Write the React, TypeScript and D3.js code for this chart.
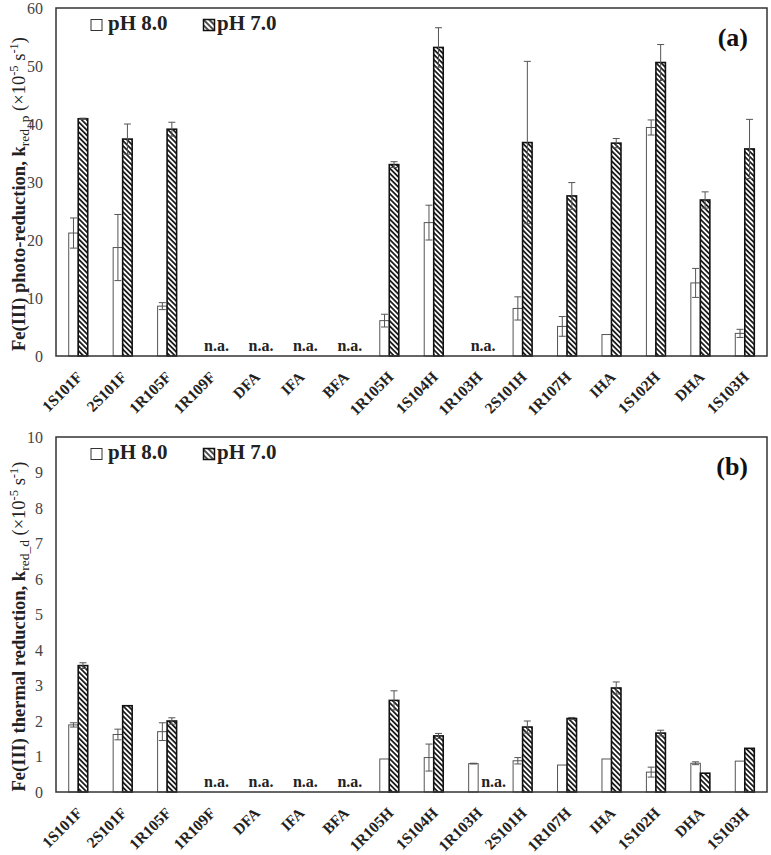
import React from "react";
import * as d3 from "d3";

const categories = ["1S101F","2S101F","1R105F","1R109F","DFA","IFA","BFA","1R105H","1S104H","1R103H","2S101H","1R107H","IHA","1S102H","DHA","1S103H"];

const photoPH8 = [21.2, 18.7, 8.6, null, null, null, null, 6.1, 23.0, null, 8.2, 5.1, 3.7, 39.4, 12.6, 3.9];
const photoPH8Err = [2.6, 5.7, 0.6, null, null, null, null, 1.1, 3.0, null, 2.0, 1.7, 0, 1.3, 2.5, 0.7];
const photoPH7 = [40.9, 37.4, 39.1, null, null, null, null, 33.0, 53.2, null, 36.8, 27.6, 36.7, 50.6, 26.9, 35.7];
const photoPH7Err = [0.1, 2.6, 1.2, null, null, null, null, 0.5, 3.4, null, 14.0, 2.3, 0.8, 3.1, 1.4, 5.1];

const thermalPH8 = [1.89, 1.62, 1.70, null, null, null, null, 0.93, 0.97, 0.80, 0.88, 0.76, 0.93, 0.56, 0.81, 0.87];
const thermalPH8Err = [0.06, 0.15, 0.25, null, null, null, null, 0, 0.38, 0.01, 0.09, 0, 0, 0.14, 0.04, 0];
const thermalPH7 = [3.56, 2.43, 2.00, null, null, null, null, 2.58, 1.58, null, 1.83, 2.07, 2.93, 1.66, 0.53, 1.23];
const thermalPH7Err = [0.08, 0, 0.09, null, null, null, null, 0.27, 0.07, null, 0.17, 0.03, 0.17, 0.08, 0, 0];

const photoTicks = [0, 10, 20, 30, 40, 50, 60];
const thermalTicks = [0, 1, 2, 3, 4, 5, 6, 7, 8, 9, 10];

const legendLabels = ["pH 8.0", "pH 7.0"];

const FONT = "'Liberation Serif', 'Times New Roman', serif";

type PanelProps = {
  top: number;
  bottom: number;
  yMax: number;
  ticks: number[];
  ph8: (number | null)[];
  ph8Err: (number | null)[];
  ph7: (number | null)[];
  ph7Err: (number | null)[];
  tag: string;
  titleMain: string;
  titleSub: string;
};

const LEFT = 56;
const RIGHT = 767;
const BAR_W = 9.5;

function Panel(p: PanelProps) {
  const x = d3.scaleBand<string>().domain(categories).range([LEFT, RIGHT]).padding(0);
  const y = d3.scaleLinear().domain([0, p.yMax]).range([p.bottom, p.top]);
  const c = (cat: string) => (x(cat) as number) + x.bandwidth() / 2;
  const titleY = (p.top + p.bottom) / 2 + 12;

  const errBar = (cx: number, v: number, e: number | null, key: string) => {
    if (e == null || e <= 0) return null;
    const y1 = y(v + e);
    const y2 = y(v - e);
    return (
      <g key={key} stroke="#555" strokeWidth={1}>
        <line x1={cx} x2={cx} y1={y1} y2={y2} />
        <line x1={cx - 3.5} x2={cx + 3.5} y1={y1} y2={y1} />
        <line x1={cx - 3.5} x2={cx + 3.5} y1={y2} y2={y2} />
      </g>
    );
  };

  return (
    <g>
      {p.ticks.map((t) => (
        <text key={"t" + t} x={43} y={y(t)} dy="0.35em" textAnchor="end" fontSize={16} fill="#444" fontFamily={FONT}>
          {t}
        </text>
      ))}
      {categories.map((cat, i) => {
        const cx = c(cat);
        const v8 = p.ph8[i];
        const v7 = p.ph7[i];
        return (
          <g key={cat}>
            {v8 != null && (
              <rect x={cx - BAR_W} y={y(v8)} width={BAR_W} height={p.bottom - y(v8)} fill="#fff" stroke="#555" strokeWidth={1} />
            )}
            {v7 != null && (
              <rect x={cx} y={y(v7)} width={BAR_W} height={p.bottom - y(v7)} fill="url(#hatch)" stroke="#111" strokeWidth={1.6} />
            )}
            {v8 != null && errBar(cx - BAR_W / 2, v8, p.ph8Err[i], "e8")}
            {v7 != null && errBar(cx + BAR_W / 2, v7, p.ph7Err[i], "e7")}
            {v8 == null && v7 == null && (
              <text x={cx + 5} y={p.bottom - 5} textAnchor="middle" fontSize={16} fontWeight="bold" fill="#222" fontFamily={FONT}>n.a.</text>
            )}
            {v8 != null && v7 == null && (
              <text x={cx + 3} y={p.bottom - 5} textAnchor="start" fontSize={16} fontWeight="bold" fill="#222" fontFamily={FONT}>n.a.</text>
            )}
          </g>
        );
      })}
      <rect x={LEFT} y={p.top} width={RIGHT - LEFT} height={p.bottom - p.top} fill="none" stroke="#333" strokeWidth={1.5} />
      {categories.map((cat) => {
        const ax = c(cat) + 5;
        const ay = p.bottom + 22;
        return (
          <text key={"x" + cat} x={ax} y={ay} transform={`rotate(-45 ${ax} ${ay})`} textAnchor="end" fontSize={15.5} fontWeight="bold" fill="#222" fontFamily={FONT}>
            {cat}
          </text>
        );
      })}
      <rect x={91} y={p.top + 11.5} width={11} height={11} fill="#fff" stroke="#333" strokeWidth={1} />
      <text x={108} y={p.top + 22} fontSize={21} fontWeight="bold" fill="#222" fontFamily={FONT}>{legendLabels[0]}</text>
      <rect x={203.5} y={p.top + 11.5} width={11} height={11} fill="url(#hatchLegend)" stroke="#111" strokeWidth={1.5} />
      <text x={217} y={p.top + 22} fontSize={21} fontWeight="bold" fill="#222" fontFamily={FONT}>{legendLabels[1]}</text>
      <text x={748} y={p.top + 38} textAnchor="end" fontSize={26} fontWeight="bold" fill="#111" fontFamily={FONT}>{p.tag}</text>
      <text x={25} y={titleY} transform={`rotate(-90 25 ${titleY})`} textAnchor="middle" fontSize={18.5} fill="#222" fontFamily={FONT}>
        <tspan fontWeight="bold">{p.titleMain}</tspan>
        <tspan fontWeight="bold">k</tspan>
        <tspan fontSize={13.5} dy={4}>{p.titleSub}</tspan>
        <tspan dy={-4}> (×10</tspan>
        <tspan fontSize={12.5} dy={-7}>-5</tspan>
        <tspan dy={7}> s</tspan>
        <tspan fontSize={12.5} dy={-7}>-1</tspan>
        <tspan dy={7}>)</tspan>
      </text>
    </g>
  );
}

export default function App() {
  return (
    <div style={{ position: "absolute", left: 0, top: 0, background: "#fff" }}>
      <svg width={771} height={855} viewBox="0 0 771 855" style={{ display: "block" }}>
        <defs>
          <pattern id="hatch" patternUnits="userSpaceOnUse" width={3.6} height={3.6} patternTransform="rotate(-45)">
            <rect width={3.6} height={3.6} fill="#fff" />
            <line x1={1.8} y1={-1} x2={1.8} y2={5} stroke="#111" strokeWidth={1.7} />
          </pattern>
          <pattern id="hatchLegend" patternUnits="userSpaceOnUse" width={4} height={4} patternTransform="rotate(-45)">
            <rect width={4} height={4} fill="#fff" />
            <line x1={2} y1={-1} x2={2} y2={5} stroke="#111" strokeWidth={1.5} />
          </pattern>
        </defs>
        <rect width={771} height={855} fill="#fff" />
        <Panel top={8} bottom={356} yMax={60} ticks={photoTicks} ph8={photoPH8} ph8Err={photoPH8Err} ph7={photoPH7} ph7Err={photoPH7Err} tag="(a)" titleMain="Fe(III) photo-reduction, " titleSub="red_p" />
        <Panel top={437} bottom={792} yMax={10} ticks={thermalTicks} ph8={thermalPH8} ph8Err={thermalPH8Err} ph7={thermalPH7} ph7Err={thermalPH7Err} tag="(b)" titleMain="Fe(III) thermal reduction, " titleSub="red_d" />
      </svg>
    </div>
  );
}
